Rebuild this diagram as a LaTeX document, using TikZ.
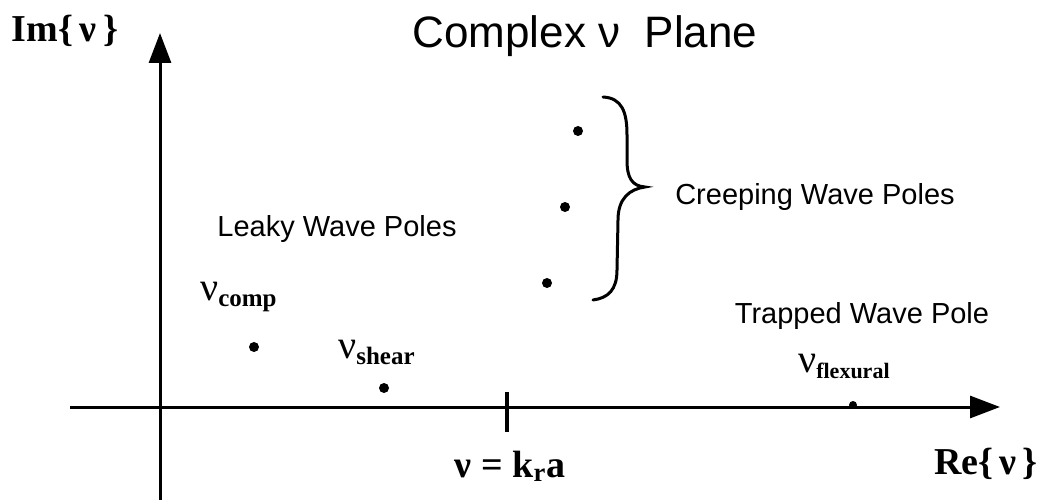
\documentclass[tikz,border=0pt]{standalone}
\usepackage{fontspec}
\setmainfont{Liberation Serif}
\setsansfont{Liberation Sans}
\usetikzlibrary{arrows.meta}
\newcommand{\nusub}[2]{{\fontsize{40}{42}\selectfont ν}\raisebox{-6pt}{\fontsize{#1}{26}\selectfont\bfseries #2}}
\tikzset{
  axis/.style={line width=3pt,-{Triangle[length=30pt,width=22pt]}},
  pole/.style={circle,fill=black,inner sep=0pt,minimum size=10pt},
  serif/.style={font=\fontsize{38}{40}\selectfont\bfseries},
  sflabel/.style={font=\sffamily\fontsize{29}{32}\selectfont},
}
\begin{document}
\begin{tikzpicture}[x=1pt,y=-1pt]
\useasboundingbox (0,0) rectangle (1063,503);
% axes
\coordinate (ybot) at (160,500);
\coordinate (ytop) at (160,33);
\coordinate (xl) at (70,407);
\coordinate (xr) at (1000,407);
\draw[axis] (ybot) -- (ytop);
\draw[axis] (xl) -- (xr);
\coordinate (t1) at (507,392);
\coordinate (t2) at (507,432);
\draw[line width=3.5pt] (t1) -- (t2);
% axis labels
\node[serif,anchor=center] (im) at (65,31) {Im\{\,ν\,\}};
\node[serif,anchor=center] (re) at (986,464) {Re\{\,ν\,\}};
\node[serif,anchor=center] (kr) at (510,466) {ν = k\textsubscript{r}a};
\node[font=\sffamily\fontsize{44}{48}\selectfont,anchor=center] (title) at (585,36) {Complex ν\ \ Plane};
% poles
\node[pole] (comp) at (254,347) {};
\node[pole] (shear) at (384,388) {};
\node[pole] (c1) at (578,131) {};
\node[pole] (c2) at (565,207) {};
\node[pole] (c3) at (547,283) {};
\node[pole,minimum size=8pt] (flex) at (853,405) {};
% pole labels
\node[anchor=base west,inner sep=0pt] (lcomp) at (200,300) {\nusub{25}{comp}};
\node[anchor=base west,inner sep=0pt] (lshear) at (338,358) {\nusub{25}{shear}};
\node[anchor=base west,inner sep=0pt] (lflex) at (798,372) {\nusub{22}{flexural}};
% group labels
\node[sflabel] (leaky) at (337,229) {Leaky Wave Poles};
\node[sflabel] (creep) at (815,197) {Creeping Wave Poles};
\node[sflabel] (trap) at (862,316) {Trapped Wave Pole};
% brace
\draw[line width=3pt,line cap=round] (603,97) .. controls (622,98) and (627,112) .. (627,135) -- (627,160) .. controls (627,178) and (632,186) .. (645,187) .. controls (630,189) and (618,198) .. (618,220) -- (617,270) .. controls (617,290) and (608,298) .. (593,300);
\end{tikzpicture}
\end{document}
